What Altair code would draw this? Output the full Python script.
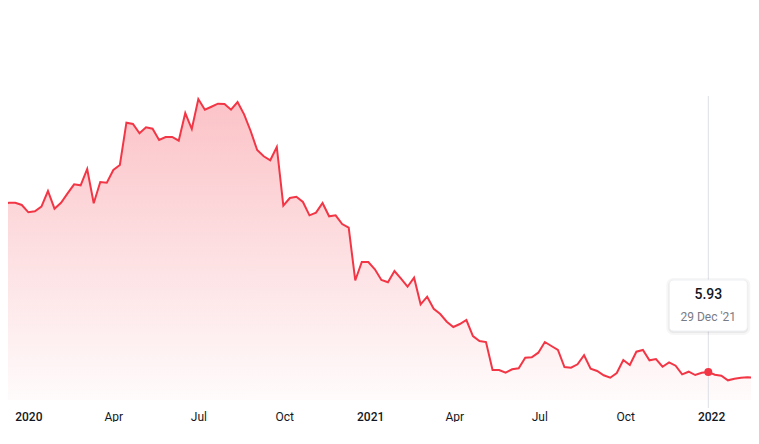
import altair as alt
import pandas as pd

# ---- data (weekly closes) ----
start_date = "2019-12-04"
values = [
    41.08, 41.78, 41.78, 41.30, 39.75, 39.96, 40.94, 44.26, 40.51, 41.78,
    43.77, 45.68, 45.47, 48.92, 41.66, 46.17, 46.02, 48.71, 49.77, 58.73,
    58.45, 56.48, 57.75, 57.45, 55.06, 55.70, 55.70, 54.91, 60.78, 57.39,
    63.74, 61.48, 62.11, 62.75, 62.69, 61.48, 63.11, 60.50, 56.97, 52.94,
    51.61, 50.76, 53.58, 41.15, 42.78, 43.05, 41.93, 39.11, 39.67, 41.72,
    38.90, 39.11, 37.27, 36.49, 25.31, 29.22, 29.22, 27.68, 25.41, 24.93,
    27.32, 25.69, 23.99, 25.90, 20.27, 21.88, 19.33, 18.21, 16.58, 15.46,
    16.09, 16.94, 13.55, 12.49, 12.28, 6.35, 6.35, 5.78, 6.50, 6.71,
    8.96, 9.04, 10.02, 12.28, 11.44, 10.59, 6.99, 6.84, 7.56, 9.47,
    6.63, 6.14, 5.23, 4.72, 5.72, 8.47, 7.41, 10.23, 10.59, 8.41,
    8.68, 7.05, 7.98, 7.26, 5.44, 5.99, 5.29, 5.78, 5.93, 5.36,
    5.15, 4.17, 4.51, 4.72, 4.81, 4.72, 5.51,
]
highlight_date = "2021-12-29"
tick_dates = ["2020-01-01", "2020-04-01", "2020-07-01", "2020-10-01",
              "2021-01-01", "2021-04-01", "2021-07-01", "2021-10-01",
              "2022-01-01"]

dates = pd.date_range(start_date, periods=len(values), freq="7D")
df = pd.DataFrame({"date": dates.strftime("%Y-%m-%d"), "value": values})

hl = df[df["date"] == highlight_date].copy()
hl["vlabel"] = hl["value"].map(lambda v: f"{v:.2f}")
hl["dlabel"] = pd.to_datetime(hl["date"]).dt.strftime("%d %b '%y")

# ---- scale set-up ----
W, H = 743, 392
px_per_day = 0.934
hl_px = 700.3
d_hl = pd.Timestamp(highlight_date)
d0 = d_hl - pd.Timedelta(days=hl_px / px_per_day)
d1 = d0 + pd.Timedelta(days=W / px_per_day)
xdomain = [int(d0.value // 10**6), int(d1.value // 10**6)]
ymax = H / 4.722

RED = "#f23645"

x_enc = alt.X(
    "date:T",
    scale=alt.Scale(type="utc", domain=xdomain, nice=False),
    axis=alt.Axis(
        title=None, domain=False, ticks=False, grid=False,
        values=[alt.DateTime(year=int(d[:4]), month=int(d[5:7]), date=1, utc=True) for d in tick_dates],
        labelExpr="utcFormat(datum.value, utcmonth(datum.value) == 0 ? '%Y' : '%b')",
        labelFont="Roboto", labelFontSize=12, labelColor="#131722",
        labelFontWeight={"condition": {"test": "utcmonth(datum.value) == 0", "value": 500}, "value": 400},
        labelPadding=11, labelFlush=False, labelOverlap=False,
    ),
)
y_enc = alt.Y("value:Q", scale=alt.Scale(domain=[0, ymax], nice=False, zero=True), axis=None)

area = alt.Chart(df).mark_area(
    clip=True,
    color=alt.Gradient(
        gradient="linear",
        stops=[alt.GradientStop(color="rgba(242,54,69,0.30)", offset=0),
               alt.GradientStop(color="rgba(242,54,69,0.02)", offset=1)],
        x1=1, x2=1, y1=0, y2=1,
    ),
).encode(x=x_enc, y=y_enc)

line = alt.Chart(df).mark_line(clip=True, color=RED, strokeWidth=2).encode(x=x_enc, y=y_enc)

rule = alt.Chart(hl).mark_rule(color="#dcdfe5", strokeWidth=1).encode(
    x="date:T", y=alt.value(88), y2=alt.value(400)
)

dot = alt.Chart(hl).mark_circle(size=64, color=RED, opacity=1).encode(x="date:T", y=y_enc)

shadow1 = alt.Chart(hl).mark_rect(
    xOffset=-42, x2Offset=42, cornerRadius=7, color="#000000", opacity=0.035
).encode(x="date:T", x2="date:T", y=alt.value(270), y2=alt.value(327))
shadow2 = alt.Chart(hl).mark_rect(
    xOffset=-40, x2Offset=40, cornerRadius=5, color="#000000", opacity=0.05
).encode(x="date:T", x2="date:T", y=alt.value(272), y2=alt.value(325))
box = alt.Chart(hl).mark_rect(
    xOffset=-39, x2Offset=39, cornerRadius=4, fill="#ffffff", stroke="#eef0f3", strokeWidth=1
).encode(x="date:T", x2="date:T", y=alt.value(272), y2=alt.value(323))

vtext = alt.Chart(hl).mark_text(
    font="Roboto", fontSize=14, fontWeight=500, color="#131722", baseline="middle", align="center"
).encode(x="date:T", y=alt.value(287), text="vlabel:N")
dtext = alt.Chart(hl).mark_text(
    font="Roboto", fontSize=12, color="#787b86", baseline="middle", align="center"
).encode(x="date:T", y=alt.value(309), text="dlabel:N")

chart = alt.layer(area, line, rule, dot, shadow1, shadow2, box, vtext, dtext).properties(
    width=W, height=H, padding=0
).configure_view(stroke=None)

chart.save("out.html", embed_options={"renderer": "svg", "actions": False})
